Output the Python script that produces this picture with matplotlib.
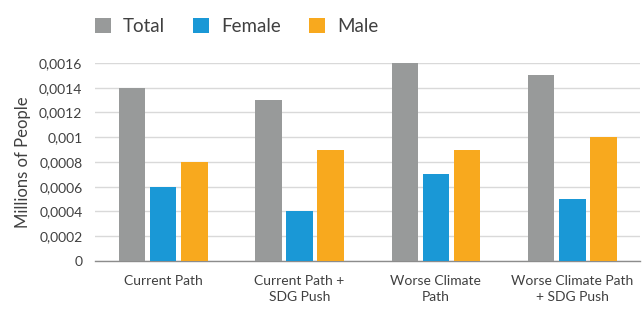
import numpy as np
import matplotlib.pyplot as plt

# chart data
categories = ['Current Path', 'Current Path +\nSDG Push', 'Worse Climate\nPath', 'Worse Climate Path\n+ SDG Push']
total = [0.0014, 0.0013, 0.0016, 0.0015]
female = [0.0006, 0.0004, 0.0007, 0.0005]
male = [0.0008, 0.0009, 0.0009, 0.001]
y_ticks = [0, 0.0002, 0.0004, 0.0006, 0.0008, 0.001, 0.0012, 0.0014, 0.0016]
y_tick_labels = ['0', '0,0002', '0,0004', '0,0006', '0,0008', '0,001', '0,0012', '0,0014', '0,0016']

plt.rcParams['font.family'] = ['Lato', 'DejaVu Sans']
text_color = '#404040'

fig = plt.figure(figsize=(6.44, 3.10), dpi=100)
ax = fig.add_axes([0.1475, 0.158, 0.847, 0.639])

x = np.arange(len(categories))
w = 0.195
off = 0.228
ax.bar(x - off, total, w, color='#989a9a', label='Total', zorder=3)
ax.bar(x, female, w, color='#1a98d6', label='Female', zorder=3)
ax.bar(x + off, male, w, color='#f8a91e', label='Male', zorder=3)

ax.set_xlim(-0.5, 3.5)
ax.set_ylim(0, 0.0016)
ax.set_yticks(y_ticks)
ax.set_yticklabels(y_tick_labels)
ax.set_xticks(x)
ax.set_xticklabels(categories, linespacing=1.45)
ax.tick_params(axis='y', length=0, pad=9, labelsize=10, labelcolor=text_color)
ax.tick_params(axis='x', length=0, pad=10, labelsize=10, labelcolor=text_color)
ax.grid(axis='y', color='#d9d9d9', linewidth=1, zorder=0)
for s in ['top', 'right', 'left']:
    ax.spines[s].set_visible(False)
ax.spines['bottom'].set_color('#8c8c8c')
ax.spines['bottom'].set_linewidth(1)
ax.set_ylabel('Millions of People', fontsize=12, color=text_color, labelpad=6)

fig.legend(loc='center', bbox_to_anchor=(0.368, 0.916), ncol=3, frameon=False,
           fontsize=13.5, handlelength=0.85, handleheight=0.85, handletextpad=0.65,
           columnspacing=1.5, labelcolor=text_color)

fig.savefig('out.png', dpi=100)
